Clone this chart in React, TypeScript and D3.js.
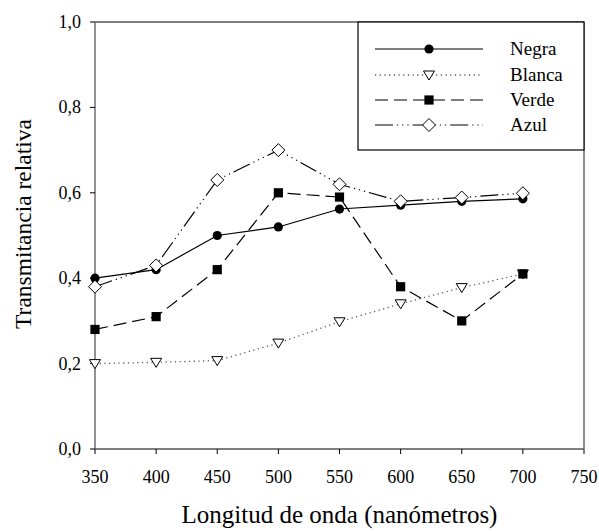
import * as d3 from 'd3';

const wavelengths = [350, 400, 450, 500, 550, 600, 650, 700];
const negra = [0.4, 0.42, 0.5, 0.52, 0.562, 0.571, 0.58, 0.586];
const blanca = [0.2, 0.203, 0.207, 0.248, 0.298, 0.34, 0.378, 0.41];
const verde = [0.28, 0.31, 0.42, 0.6, 0.59, 0.38, 0.3, 0.41];
const azul = [0.38, 0.43, 0.63, 0.7, 0.62, 0.58, 0.589, 0.599];
const xTicks = [350, 400, 450, 500, 550, 600, 650, 700, 750];
const yTicks = [0, 0.2, 0.4, 0.6, 0.8, 1.0];
const seriesNames = ['Negra', 'Blanca', 'Verde', 'Azul'];

const W = 599;
const H = 532;
const left = 95;
const right = 584;
const top = 22;
const bottom = 449;
const font = "'Liberation Serif', 'Times New Roman', Times, serif";

const x = d3.scaleLinear().domain([350, 750]).range([left, right]);
const y = d3.scaleLinear().domain([0, 1]).range([bottom, top]);

type Kind = 'circle' | 'triangle' | 'square' | 'diamond';

const styles: { dash: string; stroke: string; kind: Kind; width: number }[] = [
    { dash: '', stroke: '#000', kind: 'circle', width: 1.2 },
    { dash: '1.2,3.5', stroke: '#555', kind: 'triangle', width: 1.3 },
    { dash: '13,6', stroke: '#000', kind: 'square', width: 1.2 },
    { dash: '18,4,1.2,4,1.2,4,1.2,4', stroke: '#000', kind: 'diamond', width: 1.2 },
];

function Marker({ kind, cx, cy }: { kind: Kind; cx: number; cy: number }) {
    if (kind === 'circle') return <circle cx={cx} cy={cy} r={4.6} fill="#000" />;
    if (kind === 'square')
        return <rect x={cx - 4.6} y={cy - 4.6} width={9.2} height={9.2} fill="#000" />;
    if (kind === 'triangle')
        return (
            <path
                d={`M${cx - 5.5},${cy - 4}L${cx + 5.5},${cy - 4}L${cx},${cy + 5}Z`}
                fill="#fff"
                stroke="#000"
                strokeWidth={1}
            />
        );
    return (
        <path
            d={`M${cx},${cy - 6.5}L${cx + 6.5},${cy}L${cx},${cy + 6.5}L${cx - 6.5},${cy}Z`}
            fill="#fff"
            stroke="#000"
            strokeWidth={1}
        />
    );
}

export default function App() {
    const data = [negra, blanca, verde, azul];
    const line = d3
        .line<number>()
        .x((_, i) => x(wavelengths[i]))
        .y((d) => y(d));

    const legendY = [49, 75, 100, 125];

    return (
        <svg
            width={W}
            height={H}
            style={{ position: 'absolute', left: 0, top: 0, background: '#fff', fontFamily: font }}
        >
            {/* frame */}
            <line x1={left} x2={right} y1={top} y2={top} stroke="#000" strokeWidth={1.2} />
            <line x1={left} x2={right} y1={bottom} y2={bottom} stroke="#000" strokeWidth={1.2} />
            <line x1={left} x2={left} y1={top} y2={bottom} stroke="#777" strokeWidth={1.6} />
            <line x1={right} x2={right} y1={top} y2={bottom} stroke="#777" strokeWidth={1.6} />

            {yTicks.map((t) => (
                <g key={t}>
                    <line x1={left - 5} x2={left} y1={y(t)} y2={y(t)} stroke="#000" />
                    <text
                        x={left - 14}
                        y={y(t)}
                        dy="0.33em"
                        textAnchor="end"
                        fontSize={18}
                    >
                        {t.toFixed(1).replace('.', ',')}
                    </text>
                </g>
            ))}
            {xTicks.map((t) => (
                <g key={t}>
                    <line x1={x(t)} x2={x(t)} y1={bottom} y2={bottom + 5} stroke="#000" />
                    <text x={x(t)} y={483} textAnchor="middle" fontSize={18}>
                        {t}
                    </text>
                </g>
            ))}

            <text
                transform={`translate(31,224) rotate(-90)`}
                textAnchor="middle"
                fontSize={23.5}
            >
                Transmitancia relativa
            </text>
            <text x={(left + right) / 2} y={523} textAnchor="middle" fontSize={25}>
                Longitud de onda (nanómetros)
            </text>

            {data.map((vals, si) => (
                <g key={seriesNames[si]}>
                    <path
                        d={line(vals) ?? ''}
                        fill="none"
                        stroke={styles[si].stroke}
                        strokeWidth={styles[si].width}
                        strokeDasharray={styles[si].dash}
                    />
                    {vals.map((v, i) => (
                        <Marker key={i} kind={styles[si].kind} cx={x(wavelengths[i])} cy={y(v)} />
                    ))}
                </g>
            ))}

            {/* legend */}
            <rect
                x={358}
                y={top}
                width={right - 358}
                height={150 - top}
                fill="#fff"
                stroke="#000"
                strokeWidth={1.2}
            />
            {seriesNames.map((name, si) => (
                <g key={name}>
                    <line
                        x1={375}
                        x2={483}
                        y1={legendY[si]}
                        y2={legendY[si]}
                        stroke={styles[si].stroke}
                        strokeWidth={styles[si].width}
                        strokeDasharray={styles[si].dash}
                    />
                    <Marker kind={styles[si].kind} cx={429} cy={legendY[si]} />
                    <text x={510} y={legendY[si]} dy="0.33em" fontSize={19}>
                        {name}
                    </text>
                </g>
            ))}
        </svg>
    );
}
